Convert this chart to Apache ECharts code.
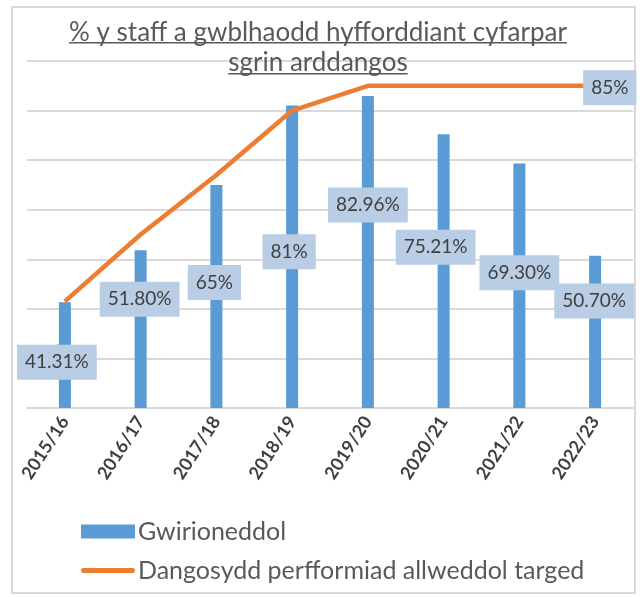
<!DOCTYPE html>
<html>
<head>
<meta charset="utf-8">
<script src="https://cdn.jsdelivr.net/npm/echarts@6/dist/echarts.min.js"></script>
<style>
html,body{margin:0;padding:0;background:#fff;}
#chart{width:642px;height:597px;}
</style>
</head>
<body>
<div id="chart"></div>
<script>
// ---- data ----
var categories = ['2015/16','2016/17','2017/18','2018/19','2019/20','2020/21','2021/22','2022/23'];
var actualValues = [41.31, 51.80, 65, 81, 82.96, 75.21, 69.30, 50.70];
var actualLabels = ['41.31%','51.80%','65%','81%','82.96%','75.21%','69.30%','50.70%'];
var targetValues = [41.5, 55, 67, 80, 85, 85, 85, 85];
var targetEndLabel = '85%';
var seriesNames = ['Gwirioneddol', 'Dangosydd perfformiad allweddol targed'];
var titleLines = ['% y staff a gwblhaodd hyfforddiant cyfarpar', 'sgrin arddangos'];

// ---- layout (label nudges, px) ----
var labelNudge = [[-8,7],[-1,-30],[-2,-14],[-3,-5],[0,-47],[-8,-24],[0,-13],[-1,-31]];

var FONT = 'Lato';
var TITLE_SIZE = 26;

function textWidth(str, size){
  var c = document.createElement('canvas').getContext('2d');
  c.font = size + 'px ' + FONT;
  return c.measureText(str).width;
}

function draw(){
  var chart = echarts.init(document.getElementById('chart'), null, {renderer:'canvas'});
  var w1 = textWidth(titleLines[0], TITLE_SIZE);
  var w2 = textWidth(titleLines[1], TITLE_SIZE);
  var titleCx = 318;

  var barData = actualValues.map(function(v, i){
    return {value: v, labelLine: {show: i === 0}};
  });

  var option = {
    backgroundColor: '#ffffff',
    animation: false,
    graphic: [
      {type: 'rect', z: -10, shape: {x: 12, y: 7, width: 623, height: 586},
       style: {fill: 'none', stroke: '#d9d9d9', lineWidth: 2}},
      {type: 'text', z: 100, x: titleCx, y: 33,
       style: {text: titleLines[0], font: TITLE_SIZE + 'px ' + FONT, fill: '#595959', align: 'center', verticalAlign: 'middle'}},
      {type: 'text', z: 100, x: titleCx, y: 63,
       style: {text: titleLines[1], font: TITLE_SIZE + 'px ' + FONT, fill: '#595959', align: 'center', verticalAlign: 'middle'}},
      {type: 'rect', z: 100, shape: {x: titleCx - w1/2, y: 42, width: w1, height: 1.4}, style: {fill: '#595959'}},
      {type: 'rect', z: 100, shape: {x: titleCx - w2/2, y: 73, width: w2, height: 1.4}, style: {fill: '#595959'}}
    ],
    grid: {left: 27, right: 9, top: 61, bottom: 189, containLabel: false},
    legend: {
      orient: 'vertical',
      left: 76,
      top: 514,
      itemWidth: 54,
      itemHeight: 14,
      itemGap: 14,
      textStyle: {fontFamily: FONT, fontSize: 25, color: '#595959', padding: [0,0,0,-2]},
      data: [
        {name: seriesNames[0], icon: 'rect'},
        {name: seriesNames[1], icon: 'path://M2.5,0 L53.5,0 A2.5,2.5 0 0 1 53.5,5 L2.5,5 A2.5,2.5 0 0 1 2.5,0 Z', itemStyle: {color: '#ed7d31'}}
      ]
    },
    xAxis: {
      type: 'category',
      data: categories,
      axisLine: {lineStyle: {color: '#d9d9d9', width: 2}},
      axisTick: {show: false},
      axisLabel: {rotate: 57, margin: 10, color: '#404040', fontWeight: 'bold', fontSize: 18, fontFamily: FONT, interval: 0}
    },
    yAxis: {
      type: 'value',
      min: 20, max: 90, interval: 10,
      axisLabel: {show: false},
      axisLine: {show: false},
      axisTick: {show: false},
      splitLine: {lineStyle: {color: '#d9d9d9', width: 2}}
    },
    series: [
      {
        name: seriesNames[0],
        type: 'bar',
        barWidth: 12,
        itemStyle: {color: '#5b9bd5'},
        data: barData,
        label: {
          show: true, position: 'inside',
          formatter: function(p){ return actualLabels[p.dataIndex]; },
          backgroundColor: '#b9cde5', color: '#404040', fontSize: 19,
          fontFamily: FONT, padding: [8, 8, 8, 8], lineHeight: 19
        },
        labelLine: {show: true, lineStyle: {color: '#a6a6a6', width: 1}},
        labelLayout: function(p){
          return {dx: labelNudge[p.dataIndex][0], dy: labelNudge[p.dataIndex][1]};
        },
        z: 2
      },
      {
        name: seriesNames[1],
        type: 'line',
        data: targetValues,
        symbol: 'none',
        lineStyle: {color: '#ed7d31', width: 4.5},
        itemStyle: {color: '#ed7d31'},
        endLabel: {
          show: true, formatter: targetEndLabel, distance: -12, offset: [0, 2],
          backgroundColor: '#b9cde5', color: '#404040', fontSize: 19,
          fontFamily: FONT, padding: [8, 8, 8, 8], lineHeight: 19
        },
        z: 3
      }
    ]
  };
  chart.setOption(option);
}

if (document.fonts && document.fonts.load) {
  Promise.all([
    document.fonts.load('26px Lato'),
    document.fonts.load('bold 18px Lato')
  ]).then(draw, draw);
} else {
  draw();
}
</script>
</body>
</html>
